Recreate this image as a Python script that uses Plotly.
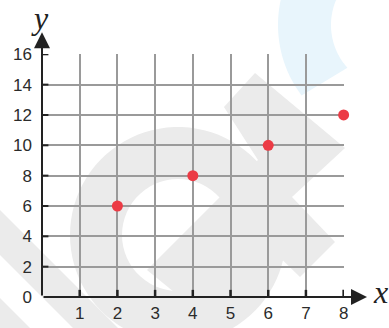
import math
import plotly.graph_objects as go

# data
x_vals = [2, 4, 6, 8]
y_vals = [6, 8, 10, 12]
x_ticks = [1, 2, 3, 4, 5, 6, 7, 8]
y_ticks = [0, 2, 4, 6, 8, 10, 12, 14, 16]

W, H = 389, 328
ML, MR, MT, MB = 42, 45, 54, 31
PW, PH = W - ML - MR, H - MT - MB


def pp(px, py):
    # image pixel -> paper coords (for the background watermark only)
    return (px - ML) / PW, (H - MB - py) / PH


def poly_path(points):
    pts = [pp(*p) for p in points]
    return "M " + " L ".join(f"{a:.4f},{b:.4f}" for a, b in pts) + " Z"


def arc(cx, cy, r, a0, a1, n=40):
    return [(cx + r * math.cos(math.radians(a0 + (a1 - a0) * i / n)),
             cy + r * math.sin(math.radians(a0 + (a1 - a0) * i / n))) for i in range(n + 1)]


fig = go.Figure()

# faint watermark in the background
gray = "#ebebeb"
ring_path = poly_path(arc(178, 235, 108, 0, 360, 90)) + " " + poly_path(arc(178, 235, 56, 360, 0, 60))
fig.add_shape(type="path", path=ring_path, xref="paper", yref="paper",
              fillcolor=gray, line_width=0, layer="below")
fig.add_shape(type="path", xref="paper", yref="paper", fillcolor=gray, line_width=0, layer="below",
              path=poly_path([(224, 107), (255, 73), (345, 148), (292, 197), (335, 242), (300, 277),
                              (258, 236), (190, 305), (147, 270), (220, 197), (258, 160)]))
fig.add_shape(type="path", xref="paper", yref="paper", fillcolor=gray, line_width=0, layer="below",
              path=poly_path([(0, 210), (0, 255), (73, 328), (118, 328)]))
fig.add_shape(type="path", xref="paper", yref="paper", fillcolor=gray, line_width=0, layer="below",
              path=poly_path([(0, 298), (0, 328), (30, 328)]))
fig.add_shape(type="path", xref="paper", yref="paper", fillcolor="#e8f5fc", line_width=0, layer="below",
              path=poly_path([(283, -5)] + arc(395, 25, 117, 195, 143, 30)
                             + arc(395, 25, 64, 138, 203, 30) + [(335, -5)]))

# ticks
for yv in y_ticks[1:]:
    fig.add_shape(type="line", x0=-0.17, x1=0.17, y0=yv, y1=yv,
                  line=dict(color="#222222", width=2))
for xv in x_ticks:
    fig.add_shape(type="line", x0=xv, x1=xv, y0=0, y1=0.47,
                  line=dict(color="#222222", width=2.5))

# axes with arrows
fig.add_annotation(x=8.62, y=0, ax=0, ay=0, axref="x", ayref="y", xref="x", yref="y",
                   text="", showarrow=True, arrowhead=2, arrowsize=1.6, arrowwidth=2,
                   arrowcolor="#222222")
fig.add_annotation(x=0, y=17.45, ax=0, ay=0, axref="x", ayref="y", xref="x", yref="y",
                   text="", showarrow=True, arrowhead=2, arrowsize=1.6, arrowwidth=2,
                   arrowcolor="#222222")

fig.add_trace(go.Scatter(
    x=x_vals, y=y_vals, mode="markers",
    marker=dict(size=11, color="#ec3b45"),
    cliponaxis=False, showlegend=False,
))

label_font = dict(family="Liberation Sans, Arial", size=17, color="#2b2b2b")
title_font = dict(family="Liberation Serif, Times New Roman", size=32, color="#222222")
# explicit anchors: with "auto" plotly slides paper annotations outside [0, 1]
fig.add_annotation(text="<i>y</i>", xref="paper", yref="paper", x=pp(40, 17.5)[0], y=pp(40, 17.5)[1],
                   xanchor="center", yanchor="middle", showarrow=False, font=title_font)
fig.add_annotation(text="<i>x</i>", xref="paper", yref="paper", x=pp(380, 292)[0], y=pp(380, 292)[1],
                   xanchor="center", yanchor="middle", showarrow=False, font=title_font)

fig.update_layout(
    width=W, height=H,
    margin=dict(l=ML, r=MR, t=MT, b=MB, autoexpand=False),
    paper_bgcolor="white",
    plot_bgcolor="rgba(0,0,0,0)",
    xaxis=dict(range=[0, 8.01], tickvals=x_ticks, showgrid=True, gridcolor="#9a9a9a", gridwidth=1.5,
               zeroline=False, showline=False, ticks="", tickfont=label_font, ticklabelstandoff=4,
               automargin=False),
    yaxis=dict(range=[0, 16.02], tickvals=y_ticks, showgrid=True, gridcolor="#9a9a9a", gridwidth=1.5,
               zeroline=False, showline=False, ticks="", tickfont=label_font, ticklabelstandoff=9,
               automargin=False),
)

# page body has a default 8px margin; drop it so the figure sits at the window corner
fig.write_html("out.html", config={"displayModeBar": False},
               post_script="document.body.style.margin='0';")
